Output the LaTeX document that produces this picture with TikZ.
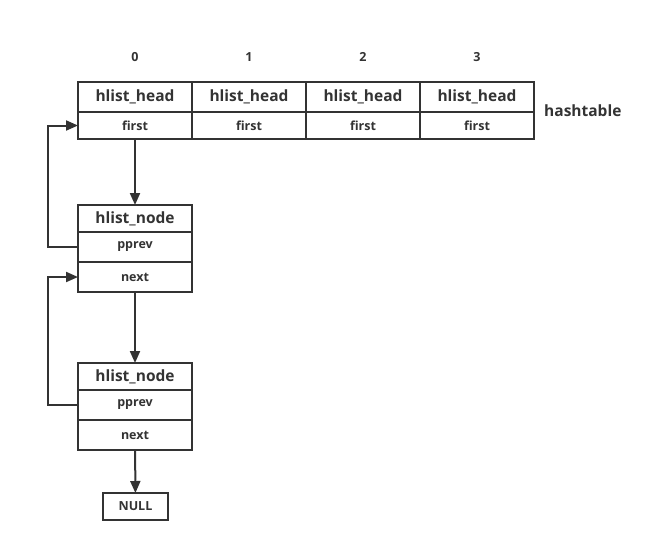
\documentclass[tikz,border=0pt]{standalone}
\usepackage{fontspec}
\setmainfont{Open Sans}
\usepackage{tikz}
\usetikzlibrary{arrows.meta,positioning}

\definecolor{line}{HTML}{333333}
\definecolor{txt}{HTML}{333333}

\newcommand{\headfont}{\fontsize{15.5}{18}\selectfont\bfseries}
\newcommand{\fieldfont}{\fontsize{12.5}{14}\selectfont\bfseries}

\begin{document}
\begin{tikzpicture}[
    x=1pt, y=-1pt,
    cell/.style={rectangle, draw=line, line width=2pt, minimum width=114pt, inner sep=0pt, outer sep=0pt, text=txt},
    head/.style={cell, minimum height=30pt, font=\headfont},
    field/.style={cell, minimum height=27pt, font=\fieldfont},
    slot/.style={cell, minimum height=30pt, font=\fieldfont},
    label/.style={text=txt, inner sep=0pt},
    arrow/.style={-{Triangle[length=12pt,width=10pt]}, draw=line, line width=2pt}
]
    \useasboundingbox (0,0) rectangle (668,552);

    % Hashtable
    \foreach \i in {0,...,3} {
        \node[head] (h\i) at ({135+114*\i},97) {hlist\_head};
        \node[field, below=0pt of h\i] (f\i) {first};
        \node[label, font=\fieldfont] (idx\i) at ({135+114*\i},57) {\i};
    }
    \node[label, font=\headfont, anchor=west] (tbl) at (544,111) {hashtable};

    % First hlist_node
    \node[field, font=\headfont] (n1) at (135,218.5) {hlist\_node};
    \node[slot, below=0pt of n1] (n1p) {pprev};
    \node[slot, below=0pt of n1p] (n1n) {next};

    % Second hlist_node
    \node[field, font=\headfont] (n2) at (135,376.5) {hlist\_node};
    \node[slot, below=0pt of n2] (n2p) {pprev};
    \node[slot, below=0pt of n2p] (n2n) {next};

    % NULL
    \node[cell, minimum width=65pt, minimum height=27pt, font=\fieldfont] (null) at (135.5,506.5) {NULL};

    % Arrows
    \draw[arrow] (f0) -- (n1);
    \draw[arrow] (n1n) -- (n2);
    \draw[arrow] (n2n) -- (null);
    \draw[arrow] (n1p.west) -- ++(-30,0) |- (f0.west);
    \draw[arrow] (n2p.west) -- ++(-30,0) |- (n1n.west);
\end{tikzpicture}
\end{document}
